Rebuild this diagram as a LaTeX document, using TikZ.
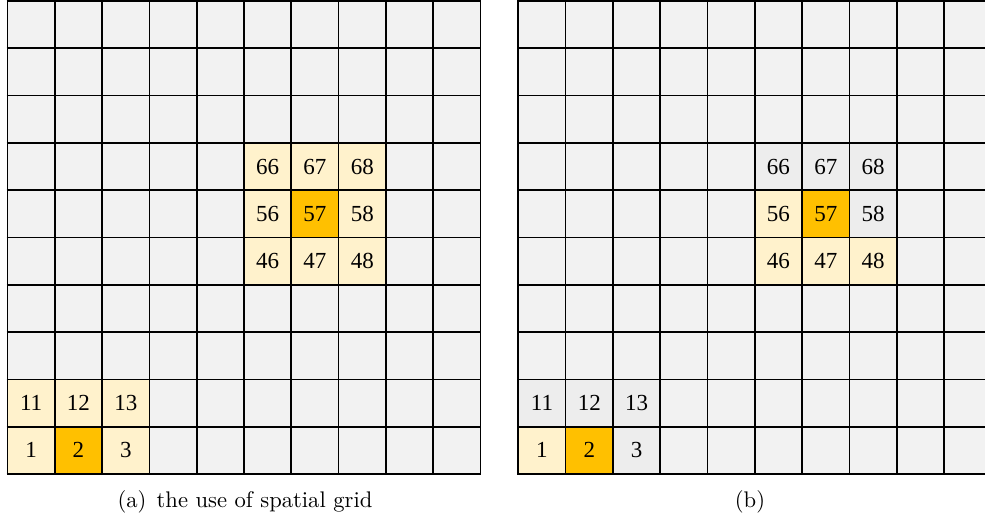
\documentclass[tikz,border=0pt]{standalone}
\usepackage{fontspec}
\newfontfamily\numfont{Liberation Serif}
\newfontfamily\capfont{lmroman10-regular}[Extension=.otf]
\definecolor{bggray}{HTML}{F2F2F2}
\definecolor{lyel}{HTML}{FFF2CC}
\definecolor{orng}{HTML}{FFC000}
\definecolor{selgray}{HTML}{EDEDED}
\begin{document}
\begin{tikzpicture}[x=1pt,y=-1pt,
  gridline/.style={line width=1.7pt,black},
  numlabel/.style={font=\numfont\fontsize{23}{27}\selectfont, inner sep=0pt},
  caplabel/.style={font=\capfont\fontsize{22.6}{26}\selectfont, inner sep=0pt, anchor=base}]
\useasboundingbox (0,0) rectangle (985,519);
\def\cs{47.3}
\foreach \gx in {7.5,518.3}{
  \fill[bggray] (\gx,1) rectangle ++(10*\cs,10*\cs);
}
\foreach \gx/\g/\n/\col in {
  7.5/L/1/lyel, 7.5/L/2/orng, 7.5/L/3/lyel, 7.5/L/11/lyel, 7.5/L/12/lyel, 7.5/L/13/lyel,
  7.5/L/46/lyel, 7.5/L/47/lyel, 7.5/L/48/lyel, 7.5/L/56/lyel, 7.5/L/57/orng, 7.5/L/58/lyel,
  7.5/L/66/lyel, 7.5/L/67/lyel, 7.5/L/68/lyel,
  518.3/R/1/lyel, 518.3/R/2/orng, 518.3/R/3/selgray, 518.3/R/11/selgray, 518.3/R/12/selgray, 518.3/R/13/selgray,
  518.3/R/46/lyel, 518.3/R/47/lyel, 518.3/R/48/lyel, 518.3/R/56/lyel, 518.3/R/57/orng, 518.3/R/58/selgray,
  518.3/R/66/selgray, 518.3/R/67/selgray, 518.3/R/68/selgray}{
  \pgfmathtruncatemacro\c{mod(\n-1,10)}
  \pgfmathtruncatemacro\r{(\n-1)/10}
  \fill[\col] (\gx+\c*\cs, 1+9*\cs-\r*\cs) rectangle ++(\cs,\cs);
  \node[numlabel] (\g\n) at (\gx+\c*\cs+0.5*\cs, 1+9*\cs-\r*\cs+0.5*\cs) {\n};
}
\foreach \gx in {7.5,518.3}{
  \foreach \i in {0,...,10}{
    \draw[gridline] (\gx+\i*\cs,1) -- ++(0,10*\cs);
    \draw[gridline] (\gx-0.85,1+\i*\cs) -- ++(10*\cs+1.7,0);
  }
}
\node[caplabel] (capa) at (245,507) {(a)\hspace{0.45em}the use of spatial grid};
\node[caplabel] (capb) at (750,507) {(b)};
\end{tikzpicture}
\end{document}
